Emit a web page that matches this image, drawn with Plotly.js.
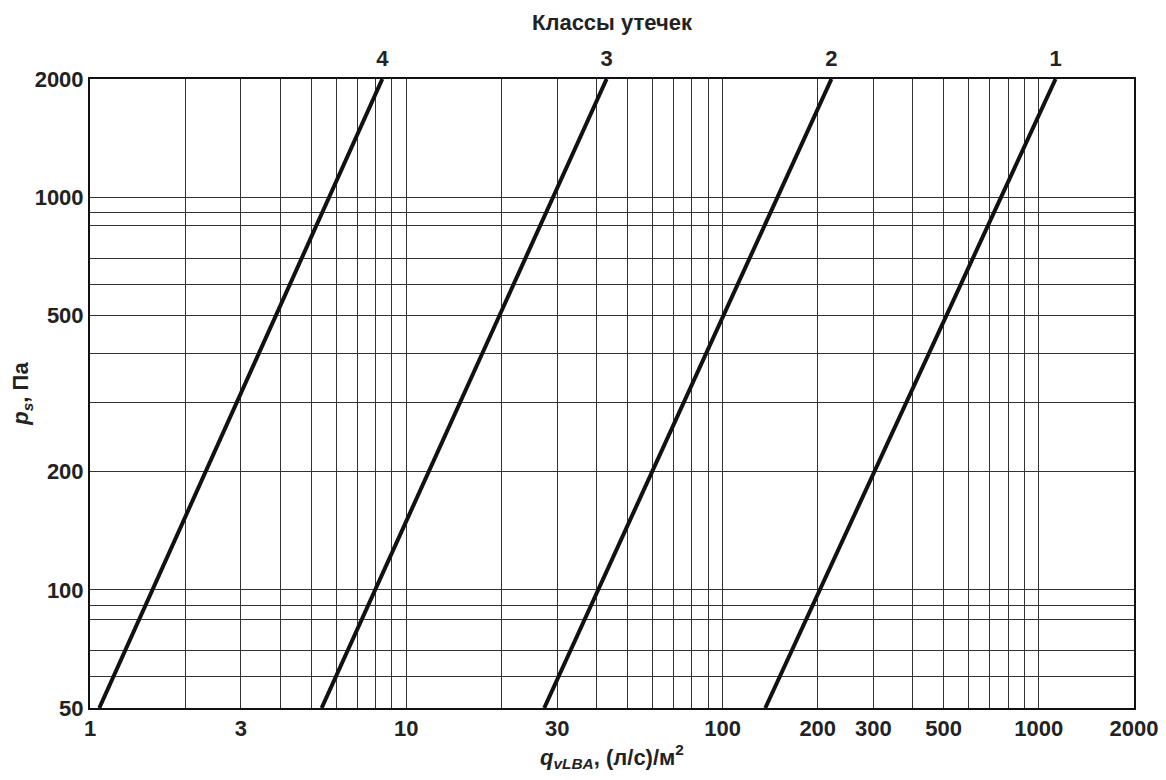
<!DOCTYPE html>
<html>
<head>
<meta charset="utf-8">
<script src="https://cdn.plot.ly/plotly-3.0.1.min.js"></script>
<style>html,body{margin:0;padding:0;background:#fff;} #chart{width:1166px;height:780px;}</style>
</head>
<body>
<div id="chart"></div>
<script>
// Leakage classes and line end points
var classNames = ['4', '3', '2', '1'];
var pressure = [50, 2000];               // p_s, Pa (bottom and top of each line)
var class4Flow = [1.07, 8.4];
var class3Flow = [5.4, 43];
var class2Flow = [27.3, 221];
var class1Flow = [136.5, 1130];

// Axis tick labels
var xTickVals = [1, 3, 10, 30, 100, 200, 300, 500, 1000, 2000];
var yTickVals = [50, 100, 200, 500, 1000, 2000];
// Additional grid lines
var xGridVals = [2, 4, 5, 6, 7, 8, 9, 20, 40, 50, 60, 70, 80, 90, 400, 600, 700, 800, 900];
var yGridVals = [60, 70, 84, 91, 300, 400, 600, 700, 845, 915];

var flows = [class4Flow, class3Flow, class2Flow, class1Flow];
var topFlows = flows.map(function (f) { return f[1]; });

var traces = flows.map(function (f, i) {
  return {
    x: f, y: pressure, type: 'scatter', mode: 'lines',
    name: classNames[i],
    line: {color: '#111', width: 4},
    hoverinfo: 'skip', showlegend: false
  };
});
// invisible trace to anchor the top axis
traces.push({x: topFlows, y: [2000, 2000, 2000, 2000], xaxis: 'x2', yaxis: 'y',
  type: 'scatter', mode: 'markers', marker: {opacity: 0}, hoverinfo: 'skip', showlegend: false});

var font = {family: 'Liberation Sans, Arial, sans-serif', size: 22, color: '#222', weight: 'bold'};
var xr = [0, Math.log10(2000)];
var yr = [Math.log10(50), Math.log10(2000)];

var layout = {
  width: 1166, height: 780,
  margin: {l: 90, r: 32, t: 79, b: 72},
  paper_bgcolor: '#fff', plot_bgcolor: '#fff',
  font: font,
  showlegend: false,
  xaxis: {
    type: 'log', range: xr,
    tickmode: 'array', tickvals: xTickVals, ticktext: xTickVals.map(String),
    ticks: '', showgrid: true, gridcolor: '#333', gridwidth: 1,
    minor: {tickmode: 'array', tickvals: xGridVals, showgrid: true, gridcolor: '#333', gridwidth: 1, ticks: ''},
    showline: true, linecolor: '#111', linewidth: 2, mirror: true,
    zeroline: false, tickfont: font,
    title: {text: '<i>q</i><sub><i>vLBA</i></sub>, (л/с)/м<sup>2</sup>', font: font, standoff: 0}
  },
  xaxis2: {
    type: 'log', range: xr, overlaying: 'x', side: 'top', anchor: 'y',
    tickmode: 'array', tickvals: topFlows, ticktext: classNames,
    ticks: '', ticklabelstandoff: 8,
    showgrid: false, showline: false, zeroline: false, tickfont: font,
    title: {text: 'Классы утечек', font: font, standoff: 8}
  },
  yaxis: {
    type: 'log', range: yr,
    tickmode: 'array', tickvals: yTickVals, ticktext: yTickVals.map(String),
    ticks: '', showgrid: true, gridcolor: '#333', gridwidth: 1,
    minor: {tickmode: 'array', tickvals: yGridVals, showgrid: true, gridcolor: '#333', gridwidth: 1, ticks: ''},
    showline: true, linecolor: '#111', linewidth: 2, mirror: true,
    zeroline: false, tickfont: font,
    title: {text: '<i>p</i><sub><i>s</i></sub>, Па', font: font, standoff: 0}
  }
};

Plotly.newPlot('chart', traces, layout, {displayModeBar: false, staticPlot: true});
</script>
</body>
</html>
